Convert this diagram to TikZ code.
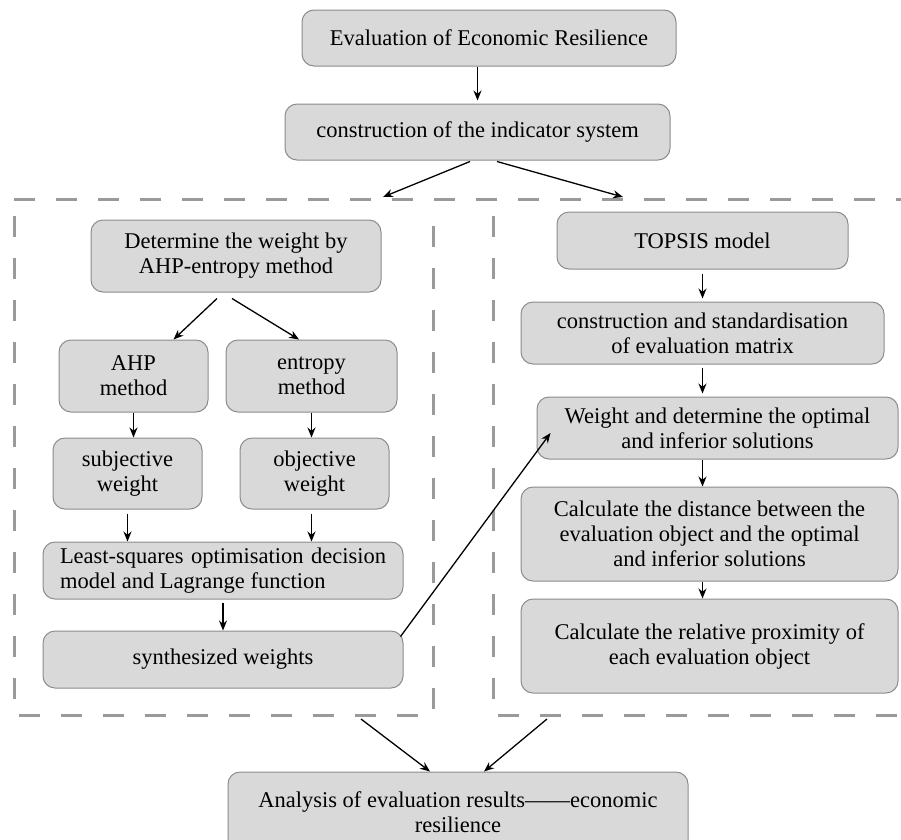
\documentclass[tikz,border=0pt]{standalone}
\usepackage{fontspec}
\setmainfont{Liberation Serif}
\usetikzlibrary{arrows.meta}
\definecolor{boxfill}{HTML}{D9D9D9}
\definecolor{boxline}{HTML}{8C8C8C}
\definecolor{dashgray}{HTML}{9A9A9A}
\begin{document}
\begin{tikzpicture}[x=1pt,y=-1pt,
  box/.style={draw=boxline, fill=boxfill, line width=1pt, rounded corners=12pt, inner sep=0pt, align=center, font=\fontsize{22.5}{25}\selectfont},
  arr/.style={-{Stealth[length=10pt,width=8pt]}, line width=1.3pt, black},
  framedash/.style={draw=dashgray, line width=3pt, dash pattern=on 21pt off 21pt}]
\useasboundingbox (0,0) rectangle (901,839);
\clip (0,0) rectangle (901,839);
% dashed frames
\draw[framedash] (14,199) -- (901,199);
\draw[framedash] (14,216) -- (14,715) -- (433,715) -- (433,216);
\draw[framedash] (493,216) -- (493,715) -- (901,715);
% boxes
\node[box, minimum width=374, minimum height=56] (top) at (489,38) {Evaluation of Economic Resilience};
\node[box, minimum width=385, minimum height=56] (ind) at (477.5,132) {construction of the indicator system};
\node[box, minimum width=290, minimum height=72] (det) at (236,256) {Determine the weight by\\AHP-entropy method};
\node[box, minimum width=149, minimum height=72] (ahp) at (133.5,376) {AHP\\method};
\node[box, minimum width=171, minimum height=72] (ent) at (311.5,376) {entropy\\method};
\node[box, minimum width=149, minimum height=71] (sub) at (127.5,473.5) {subjective\\weight};
\node[box, minimum width=149, minimum height=71] (obj) at (314.5,473.5) {objective\\weight};
\node[box, minimum width=360, minimum height=57, align=left] (lsq) at (223,570.5) {\makebox[326pt][s]{Least-squares optimisation decision}\\model and Lagrange function};
\node[box, minimum width=360, minimum height=57] (syn) at (223,659.5) {synthesized weights};
\node[box, minimum width=291, minimum height=57] (tps) at (702.5,240.5) {TOPSIS model};
\node[box, minimum width=363, minimum height=62] (csm) at (702.5,333) {construction and standardisation\\of evaluation matrix};
\node[box, minimum width=361, minimum height=62] (wdo) at (717.5,428) {Weight and determine the optimal\\and inferior solutions};
\node[box, minimum width=377, minimum height=94] (cdi) at (709.5,534) {Calculate the distance between the\\evaluation object and the optimal\\and inferior solutions};
\node[box, minimum width=377, minimum height=94] (crp) at (709.5,646) {Calculate the relative proximity of\\each evaluation object};
\node[box, minimum width=460, minimum height=80] (ana) at (458,812) {Analysis of evaluation results——economic\\resilience};
% free ends
\coordinate (lt) at (383,197);
\coordinate (rt) at (623,197);
\coordinate (lb) at (361,719);
\coordinate (rb) at (547,719);
% connectors
\draw[arr] (ind.north |- top.south) -- ([yshift=3pt]ind.north);
\draw[arr] ([shift={(-7.5,1)}]ind.south) -- (lt);
\draw[arr] ([shift={(19.5,1)}]ind.south) -- (rt);
\draw[arr] ([shift={(-19,6)}]det.south) -- ([shift={(40,0)}]ahp.north);
\draw[arr] ([shift={(-4,6)}]det.south) -- ([shift={(-12.5,0)}]ent.north);
\draw[arr] (ahp.south) -- (ahp.south |- sub.north);
\draw[arr] (ent.south) -- (ent.south |- obj.north);
\draw[arr] ([yshift=-4pt]sub.south) -- (sub.south |- lsq.north);
\draw[arr] ([shift={(-3,4)}]obj.south) coordinate (o1) -- (o1 |- lsq.north);
\draw[arr] ([yshift=-3pt]lsq.south) -- (syn.north);
\draw[arr] ([shift={(-3,6)}]syn.north east) -- ([shift={(14,5)}]wdo.west);
\draw[arr] ([yshift=-4pt]tps.south) -- ([yshift=3pt]tps.south |- csm.north);
\draw[arr] ([yshift=-3pt]csm.south) -- ([yshift=3pt]csm.south |- wdo.north);
\draw[arr] (csm.south |- wdo.south) -- (csm.south |- cdi.north);
\draw[arr] (csm.south |- cdi.south) -- (csm.south |- crp.north);
\draw[arr] (lb) -- ([xshift=-28pt]ana.north);
\draw[arr] (rb) -- ([xshift=26pt]ana.north);
\end{tikzpicture}
\end{document}
